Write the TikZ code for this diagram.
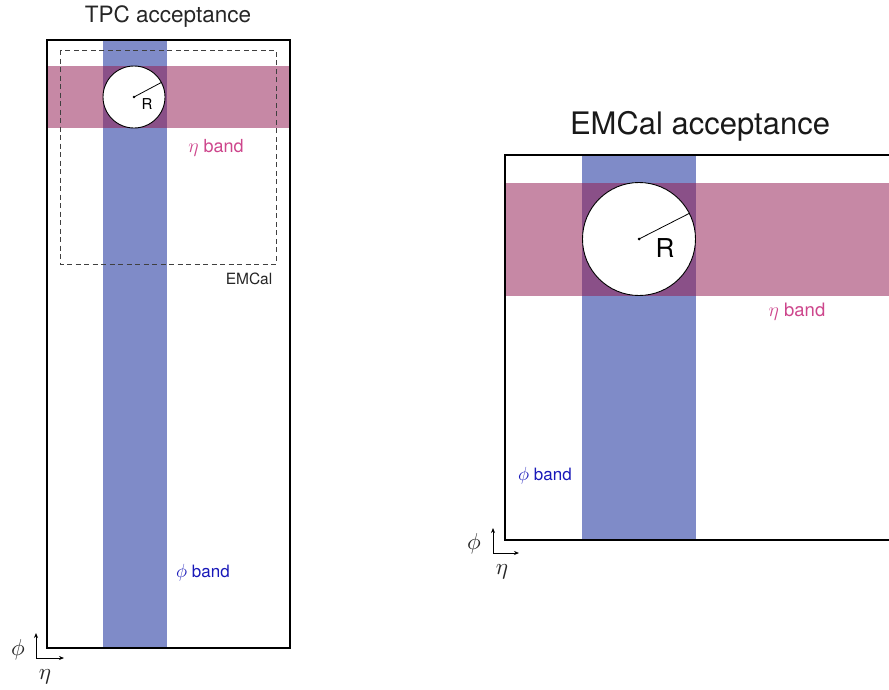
\documentclass[tikz,border=0pt]{standalone}
\usepackage{graphicx}
\usepackage{fontspec}
\setmainfont{TeX Gyre Heros}
\usetikzlibrary{arrows.meta}
\definecolor{bandblue}{RGB}{127,139,200}
\definecolor{bandpink}{RGB}{198,136,165}
\definecolor{bandboth}{RGB}{138,80,136}
\definecolor{txtpink}{RGB}{205,70,140}
\definecolor{txtblue}{RGB}{25,25,185}
\newcommand{\scaledsym}[2]{\scalebox{#1}{$#2$}}
\begin{document}
\begin{tikzpicture}[x=1pt,y=-1pt,
  frame/.style={draw=black,line width=1.6pt},
  ring/.style={circle,draw=black,line width=0.9pt,fill=white,inner sep=0pt},
  lbl/.style={inner sep=0pt,anchor=center},
  axarrow/.style={line width=0.8pt,-{Stealth[length=5pt,width=4pt]}}]
\useasboundingbox (0,0) rectangle (889,689);
% ---------------- left panel ----------------
\fill[bandblue] (103,40) rectangle (167,648);
\fill[bandpink] (47,66) rectangle (290,128);
\fill[bandboth] (103,66) rectangle (167,128);
\node[ring,minimum size=62pt] (c1) at (134,97) {};
\fill (c1.center) circle (1.4pt);
\draw[line width=0.8pt] (c1.center) -- (c1.28);
\node[lbl,font=\fontsize{15}{15}\selectfont] (r1) at (147,104) {R};
\draw[frame] (47,40) rectangle (290,648);
\draw[line width=0.8pt,dash pattern=on 5pt off 3.5pt,black!75] (60,50) rectangle (276,264);
\node[lbl,font=\fontsize{22.5}{22.5}\selectfont,text=black!85] (t1) at (168,17) {TPC acceptance};
\node[lbl,font=\fontsize{15.5}{15.5}\selectfont,text=black!85] (em) at (249,279) {EMCal};
\node[lbl,font=\fontsize{18}{18}\selectfont,text=txtpink] (eb1) at (216,148) {\scaledsym{1.15}{\eta} band};
\node[lbl,font=\fontsize{17}{17}\selectfont,text=txtblue] (pb1) at (203,573) {\scaledsym{1.1}{\phi} band};
\coordinate (o1) at (36,658);
\coordinate (u1) at (36,633);
\coordinate (r1a) at (64,658);
\draw[axarrow] (o1) -- (u1);
\draw[axarrow] (o1) -- (r1a);
\node[lbl,text=black!85] (phi1) at (18,650) {\scaledsym{2.3}{\phi}};
\node[lbl,text=black!85] (eta1) at (45,677) {\scaledsym{2.3}{\eta}};
% ---------------- right panel ----------------
\fill[bandblue] (582,155) rectangle (696,540);
\fill[bandpink] (505,183) rectangle (889,296);
\fill[bandboth] (582,183) rectangle (696,296);
\node[ring,minimum size=113pt] (c2) at (639,239) {};
\fill (c2.center) circle (1.5pt);
\draw[line width=0.8pt] (c2.center) -- (c2.27);
\node[lbl,font=\fontsize{26}{26}\selectfont] (r2) at (665,248) {R};
\draw[frame] (889,155) -- (505,155) -- (505,540) -- (889,540);
\node[lbl,font=\fontsize{31}{31}\selectfont,text=black!90] (t2) at (700,126) {EMCal acceptance};
\node[lbl,font=\fontsize{18.5}{18.5}\selectfont,text=txtpink] (eb2) at (797,312) {\scaledsym{1.15}{\eta} band};
\node[lbl,font=\fontsize{17}{17}\selectfont,text=txtblue] (pb2) at (545,476) {\scaledsym{1.1}{\phi} band};
\coordinate (o2) at (493,553);
\coordinate (u2) at (493,528);
\coordinate (r2a) at (519,553);
\draw[axarrow] (o2) -- (u2);
\draw[axarrow] (o2) -- (r2a);
\node[lbl,text=black!85] (phi2) at (474,544) {\scaledsym{2.3}{\phi}};
\node[lbl,text=black!85] (eta2) at (502,572) {\scaledsym{2.3}{\eta}};
\end{tikzpicture}
\end{document}
